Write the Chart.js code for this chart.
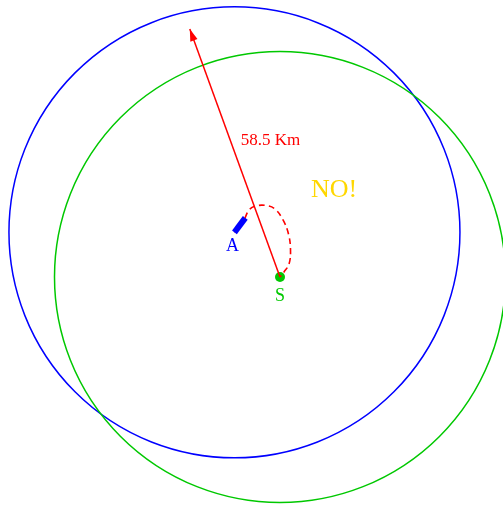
<!DOCTYPE html>
<html>
<head>
<meta charset="utf-8">
<script src="https://cdn.jsdelivr.net/npm/chart.js@4/dist/chart.umd.min.js"></script>
<style>
html,body{margin:0;padding:0;background:#fff;}
#wrap{width:503px;height:505px;}
canvas{display:block;}
</style>
</head>
<body>
<div id="wrap"><canvas id="c" width="503" height="505"></canvas></div>
<script>
// Units: km, station S at origin
const stationS = [0, 0];
const aircraftA = [-10.1, 9.9];
const aircraftHeading = [-7.7, 13.1];
const circleRadiiKm = [50, 50];            // blue circle around A, green around S
const arrowLengthKm = 58.5;
const arrowTip = [-20.0, 54.97];
const arrowLabel = '58.5 Km';
const trajectory = [
  [-7.76, 13.08], [-6.87, 14.86], [-5.32, 15.74], [-3.10, 15.85], [-1.11, 15.08],
  [0.67, 12.64], [1.88, 9.53], [2.33, 5.99], [2.00, 2.88], [0.89, 1.11], [0, 0]
];
const labels = ['A', 'S', 'NO!'];

const KM_PX = 4.51;
const toXY = p => ({x: p[0], y: p[1]});

const diagram = {
  id: 'diagram',
  beforeDatasetsDraw(chart) {
    const {ctx, scales: {x, y}} = chart;
    const centers = [aircraftA, stationS];
    const colors = ['#0000ff', '#00c800'];
    centers.forEach((c, i) => {
      const cx = x.getPixelForValue(c[0]);
      const cy = y.getPixelForValue(c[1]);
      const r = x.getPixelForValue(c[0] + circleRadiiKm[i]) - cx;
      ctx.save();
      ctx.beginPath();
      ctx.arc(cx, cy, r, 0, Math.PI * 2);
      ctx.strokeStyle = colors[i];
      ctx.lineWidth = 1.5;
      ctx.stroke();
      ctx.restore();
    });
  },
  afterDatasetsDraw(chart) {
    const {ctx, scales: {x, y}} = chart;
    // arrow head
    const tx = x.getPixelForValue(arrowTip[0]), ty = y.getPixelForValue(arrowTip[1]);
    const sx = x.getPixelForValue(stationS[0]), sy = y.getPixelForValue(stationS[1]);
    const ang = Math.atan2(ty - sy, tx - sx);
    const L = 12, W = 3.8;
    ctx.save();
    ctx.fillStyle = '#ff0000';
    ctx.beginPath();
    ctx.moveTo(tx, ty);
    ctx.lineTo(tx - L * Math.cos(ang) + W * Math.sin(ang), ty - L * Math.sin(ang) - W * Math.cos(ang));
    ctx.lineTo(tx - L * Math.cos(ang) - W * Math.sin(ang), ty - L * Math.sin(ang) + W * Math.cos(ang));
    ctx.closePath();
    ctx.fill();
    // texts
    ctx.textAlign = 'center';
    ctx.textBaseline = 'middle';
    const ax = x.getPixelForValue(aircraftA[0]), ay = y.getPixelForValue(aircraftA[1]);
    ctx.font = '18px "Liberation Serif", "Times New Roman", serif';
    ctx.fillStyle = '#0000ff';
    ctx.fillText(labels[0], ax - 2, ay + 14);
    ctx.fillStyle = '#00c800';
    ctx.fillText(labels[1], sx, sy + 19);
    ctx.font = '17px "Liberation Serif", "Times New Roman", serif';
    ctx.fillStyle = '#ff0000';
    ctx.fillText(arrowLabel, x.getPixelForValue(-2.1), y.getPixelForValue(30.2));
    ctx.font = '26px "Liberation Serif", "Times New Roman", serif';
    ctx.fillStyle = '#ffd700';
    ctx.fillText(labels[2], x.getPixelForValue(11.97), y.getPixelForValue(19.3));
    ctx.restore();
  }
};

new Chart(document.getElementById('c'), {
  type: 'scatter',
  data: {
    datasets: [
      { // dashed trajectory
        data: trajectory.map(toXY), showLine: true, borderColor: '#ff0000', borderWidth: 1.6,
        borderDash: [6, 4], pointRadius: 0, tension: 0.4, fill: false
      },
      { // arrow shaft
        data: [toXY(stationS), toXY(arrowTip)], showLine: true, borderColor: '#ff0000',
        borderWidth: 1.5, pointRadius: 0
      },
      { // aircraft body
        data: [toXY(aircraftA), toXY(aircraftHeading)], showLine: true, borderColor: '#0000ff',
        borderWidth: 6, borderCapStyle: 'butt', pointRadius: 0
      },
      { // aircraft heading
        data: [toXY(aircraftA), toXY(aircraftHeading)], showLine: true, borderColor: '#ff0000',
        borderWidth: 1.5, pointRadius: 0
      },
      { // station
        data: [toXY(stationS)], pointRadius: 5, pointBackgroundColor: '#00c800',
        pointBorderColor: '#00c800', borderWidth: 0
      }
    ]
  },
  options: {
    responsive: false,
    animation: false,
    devicePixelRatio: 1,
    layout: { padding: 0, autoPadding: false },
    plugins: { legend: { display: false }, tooltip: { enabled: false } },
    events: [],
    scales: {
      x: { type: 'linear', display: false, min: -280 / KM_PX, max: 223 / KM_PX },
      y: { type: 'linear', display: false, min: -228 / KM_PX, max: 277 / KM_PX }
    }
  },
  plugins: [diagram]
});
</script>
</body>
</html>
